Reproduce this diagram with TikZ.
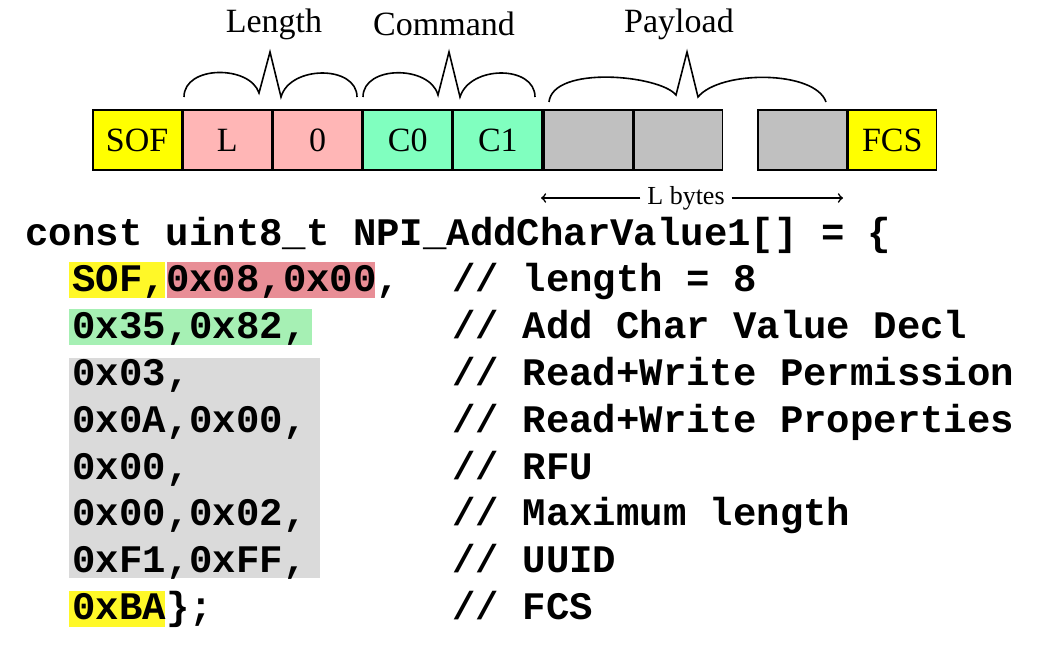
\documentclass[tikz,border=0pt]{standalone}
\usepackage{fontspec}
\setmainfont{Liberation Serif}
\setmonofont{Liberation Mono}
\usetikzlibrary{positioning}
\definecolor{sofyellow}{RGB}{255,255,0}
\definecolor{lenred}{RGB}{255,182,182}
\definecolor{cmdgreen}{RGB}{128,255,191}
\definecolor{paygray}{RGB}{192,192,192}
\definecolor{hlyellow}{RGB}{255,248,40}
\definecolor{hlred}{RGB}{232,142,150}
\definecolor{hlgreen}{RGB}{166,240,180}
\definecolor{hlgray}{RGB}{218,218,218}
\begin{document}
\begin{tikzpicture}[x=0.5pt,y=-0.5pt,
  cell/.style={draw,thick,minimum width=44.3pt,minimum height=30pt,inner sep=0pt,anchor=west,
    font=\fontsize{17}{17}\selectfont},
  hdr/.style={font=\fontsize{17}{17}\selectfont},
  code/.style={anchor=base west,inner sep=0pt,font=\fontsize{19.5}{19.5}\selectfont\ttfamily\bfseries},
  brace/.style={thick}]
 \useasboundingbox (0,0) rectangle (1037,658);

 %frame cells
 \node (sof) [cell,fill=sofyellow] at (92,140) {SOF};
 \node (lo) [cell,fill=lenred,right=0pt of sof] {L};
 \node (hi) [cell,fill=lenred,right=0pt of lo] {0};
 \node (c0) [cell,fill=cmdgreen,right=0pt of hi] {C0};
 \node (c1) [cell,fill=cmdgreen,right=0pt of c0] {C1};
 \node (p1) [cell,fill=paygray,right=0pt of c1] {};
 \node (p2) [cell,fill=paygray,right=0pt of p1] {};
 \node (pn) [cell,fill=paygray] at (757,140) {};
 \node (fcs) [cell,fill=sofyellow,right=0pt of pn] {FCS};

 %braces
 \draw[brace] (184,97) .. controls (184,65) and (250,65) .. (259,93) -- (270,52) -- (281,97) .. controls (290,65) and (357,65) .. (357,97);
 \draw[brace] (363,97) .. controls (363,65) and (430,65) .. (438,95) -- (449,52) -- (460,97) .. controls (470,65) and (535,65) .. (535,97);
 \draw[brace] (549,102) .. controls (553,65) and (660,75) .. (676,95) -- (687,52) -- (698,97) .. controls (720,70) and (815,70) .. (826,102);
 \node (lenlbl) [hdr] at (274,24) {Length};
 \node (cmdlbl) [hdr] at (444,24) {Command};
 \node (paylbl) [hdr] at (679,24) {Payload};

 %L bytes
 \node (lbytes) [font=\fontsize{13}{13}\selectfont] at (686,198) {L bytes};
 \coordinate (lbl) at (541,198);
 \coordinate (lbr) at (843,198);
 \draw[->,thick] (lbytes.west) -- (lbl);
 \draw[->,thick] (lbytes.east) -- (lbr);

 %highlights
 \fill[hlyellow] (69,262) rectangle (165,298);
 \fill[hlred] (167,262) rectangle (375,298);
 \fill[hlgreen] (69,309) rectangle (312,345);
 \fill[hlgray] (69,358) rectangle (320,578);
 \fill[hlyellow] (69,591) rectangle (165,627);

 %code
 \node (l0) [code] at (25,245) {const uint8\_t NPI\_AddCharValue1[] = \{};
 \foreach \n/\v/\c [count=\i] in {l1/{SOF,0x08,0x00,}/{// length = 8},
   l2/{0x35,0x82,}/{// Add Char Value Decl},
   l3/{0x03,}/{// Read+Write Permission},
   l4/{0x0A,0x00,}/{// Read+Write Properties},
   l5/{0x00,}/{// RFU},
   l6/{0x00,0x02,}/{// Maximum length},
   l7/{0xF1,0xFF,}/{// UUID},
   l8/{0xBA\};}/{// FCS}}
 {
   \node (\n) [code] at (72,{245+46.8*\i}) {\v};
   \node (\n c) [code] at (452,{245+46.8*\i}) {\c};
 }
\end{tikzpicture}
\end{document}
